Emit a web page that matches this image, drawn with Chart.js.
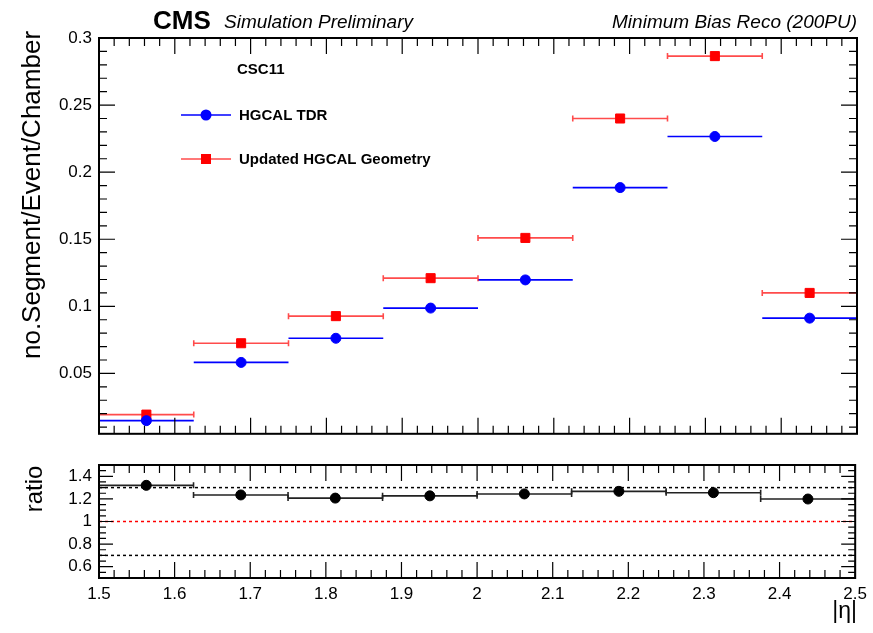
<!DOCTYPE html>
<html>
<head>
<meta charset="utf-8">
<title>CSC11 segments per event per chamber</title>
<script src="https://cdn.jsdelivr.net/npm/chart.js@4.4.1/dist/chart.umd.min.js"></script>
<style>
  body { margin: 0; background: #fff; }
  #wrap { position: relative; width: 873px; height: 633px; }
  .pad { position: absolute; left: 0; width: 873px; }
  #topPad { top: 0; height: 451px; }
  #botPad { top: 445px; height: 188px; }
</style>
</head>
<body>
<div id="wrap">
  <div class="pad" id="topPad"><canvas id="mainChart"></canvas></div>
  <div class="pad" id="botPad"><canvas id="ratioChart"></canvas></div>
</div>
<script>
// |eta| bin edges and the values
var etaEdges = [1.5, 1.625, 1.75, 1.875, 2.0, 2.125, 2.25, 2.375, 2.5];
var tdrValues = [0.0148, 0.0582, 0.0762, 0.0987, 0.1197, 0.1885, 0.2266, 0.0912];
var updatedValues = [0.0193, 0.0725, 0.0927, 0.1210, 0.1510, 0.2400, 0.2865, 0.1100];
var ratioValues = [1.32, 1.235, 1.207, 1.227, 1.244, 1.267, 1.255, 1.199];

var mainYTicks = [0.05, 0.1, 0.15, 0.2, 0.25, 0.3];
var ratioYTicks = [0.6, 0.8, 1, 1.2, 1.4];
var etaTicks = [1.5, 1.6, 1.7, 1.8, 1.9, 2.0, 2.1, 2.2, 2.3, 2.4, 2.5];
var ratioRefLines = [0.7, 1.0, 1.3];

var FONT = "'Liberation Sans', Arial, Helvetica, sans-serif";

var binPoints = function(values){
	var pts = [];
	for (var i = 0; i < values.length; i++) {
		pts.push({ x: (etaEdges[i] + etaEdges[i+1]) / 2, y: values[i], xLo: etaEdges[i], xHi: etaEdges[i+1] });
	}
	return pts;
};

var fixedTicks = function(list){
	return function(scale){ scale.ticks = list.map(function(v){ return { value: v }; }); };
};

// ROOT style pad: inward ticks on four sides, frame, x error bars, reference lines
var rootPad = {
	id: 'rootPad',
	beforeDatasetsDraw: function(chart, args, o){
		var ctx = chart.ctx, xs = chart.scales.x, ys = chart.scales.y, a = chart.chartArea;
		ctx.save();
		ctx.beginPath();
		ctx.rect(a.left, a.top, a.right - a.left, a.bottom - a.top);
		ctx.clip();
		(o.refLines || []).forEach(function(r){
			var py = ys.getPixelForValue(r.value);
			ctx.strokeStyle = r.color;
			ctx.lineWidth = 1.5;
			ctx.setLineDash([3, 3]);
			ctx.beginPath();
			ctx.moveTo(a.left, py); ctx.lineTo(a.right, py);
			ctx.stroke();
		});
		ctx.setLineDash([]);
		chart.data.datasets.forEach(function(ds){
			ctx.strokeStyle = ds.errColor;
			ctx.lineWidth = 1.6;
			ds.data.forEach(function(p){
				var py = ys.getPixelForValue(p.y);
				var x1 = xs.getPixelForValue(p.xLo), x2 = xs.getPixelForValue(p.xHi);
				ctx.beginPath();
				ctx.moveTo(x1, py); ctx.lineTo(x2, py);
				if (ds.errCap) {
					ctx.moveTo(x1, py - ds.errCap); ctx.lineTo(x1, py + ds.errCap);
					ctx.moveTo(x2, py - ds.errCap); ctx.lineTo(x2, py + ds.errCap);
				}
				ctx.stroke();
			});
		});
		ctx.restore();
	},
	afterDraw: function(chart, args, o){
		var ctx = chart.ctx, xs = chart.scales.x, ys = chart.scales.y, a = chart.chartArea;
		ctx.save();
		ctx.strokeStyle = '#000';
		ctx.lineWidth = 1.2;
		ctx.beginPath();
		var i, v, p, len, major;
		var n0 = Math.ceil(xs.min / o.xMinor - 1e-6), n1 = Math.floor(xs.max / o.xMinor + 1e-6);
		for (i = n0; i <= n1; i++) {
			v = i * o.xMinor;
			p = xs.getPixelForValue(v);
			major = Math.abs(v / o.xMajor - Math.round(v / o.xMajor)) < 1e-6;
			len = major ? o.xMajorLen : o.xMinorLen;
			ctx.moveTo(p, a.bottom); ctx.lineTo(p, a.bottom - len);
			ctx.moveTo(p, a.top); ctx.lineTo(p, a.top + len);
		}
		n0 = Math.ceil(ys.min / o.yMinor - 1e-6); n1 = Math.floor(ys.max / o.yMinor + 1e-6);
		for (i = n0; i <= n1; i++) {
			v = i * o.yMinor;
			p = ys.getPixelForValue(v);
			major = Math.abs(v / o.yMajor - Math.round(v / o.yMajor)) < 1e-6;
			len = major ? o.yMajorLen : o.yMinorLen;
			ctx.moveTo(a.left, p); ctx.lineTo(a.left + len, p);
			ctx.moveTo(a.right, p); ctx.lineTo(a.right - len, p);
		}
		ctx.stroke();
		ctx.lineWidth = 2;
		ctx.strokeRect(a.left, a.top, a.right - a.left, a.bottom - a.top);
		ctx.restore();
	}
};

var drawRotated = function(ctx, text, x, y, font){
	ctx.save();
	ctx.translate(x, y);
	ctx.rotate(-Math.PI / 2);
	ctx.font = font;
	ctx.textAlign = 'center';
	ctx.textBaseline = 'middle';
	ctx.fillText(text, 0, 0);
	ctx.restore();
};

var mainLabels = {
	id: 'mainLabels',
	afterDraw: function(chart){
		var ctx = chart.ctx;
		ctx.save();
		ctx.fillStyle = '#000';
		ctx.textBaseline = 'alphabetic';
		ctx.font = 'bold 26px ' + FONT;
		ctx.fillText('CMS', 153, 29);
		ctx.font = 'italic 19px ' + FONT;
		ctx.fillText('Simulation Preliminary', 224, 28);
		ctx.textAlign = 'right';
		ctx.fillText('Minimum Bias Reco (200PU)', 857, 28);
		ctx.textAlign = 'left';
		drawRotated(ctx, 'no.Segment/Event/Chamber', 33, 195, '26px ' + FONT);

		ctx.font = 'bold 15px ' + FONT;
		ctx.textBaseline = 'middle';
		ctx.fillText('CSC11', 237, 70);
		// legend entries
		var rows = [115, 159];
		chart.data.datasets.forEach(function(ds, k){
			var y = rows[k];
			ctx.strokeStyle = ds.errColor;
			ctx.lineWidth = 1.6;
			ctx.beginPath();
			ctx.moveTo(181, y); ctx.lineTo(231, y);
			ctx.stroke();
			ctx.fillStyle = ds.backgroundColor;
			ctx.beginPath();
			if (ds.pointStyle === 'rect') {
				var s = ds.pointRadius * Math.SQRT1_2 + 0.5;
				ctx.rect(206 - s, y - s, 2 * s, 2 * s);
			} else {
				ctx.arc(206, y, ds.pointRadius + 0.5, 0, Math.PI * 2);
			}
			ctx.fill();
			ctx.fillStyle = '#000';
			ctx.fillText(ds.label, 239, y + 1);
		});
		ctx.restore();
	}
};

var ratioLabels = {
	id: 'ratioLabels',
	afterDraw: function(chart){
		var ctx = chart.ctx;
		ctx.save();
		ctx.fillStyle = '#000';
		drawRotated(ctx, 'ratio', 35, 44, '24px ' + FONT);
		ctx.font = '23px ' + FONT;
		ctx.textAlign = 'right';
		ctx.textBaseline = 'middle';
		ctx.fillText('|\u03b7|', 857, 167);
		ctx.restore();
	}
};

var tickFont = { family: FONT, size: 17 };

new Chart(document.getElementById('mainChart'), {
	type: 'scatter',
	data: {
		datasets: [
			{
				label: 'HGCAL TDR',
				data: binPoints(tdrValues),
				pointStyle: 'circle',
				pointRadius: 5,
				backgroundColor: '#0000ff',
				borderColor: '#0000ff',
				borderWidth: 1,
				errColor: '#0000ff',
				errCap: 0
			},
			{
				label: 'Updated HGCAL Geometry',
				data: binPoints(updatedValues),
				pointStyle: 'rect',
				pointRadius: 6.4,
				backgroundColor: '#ff0000',
				borderColor: '#ff0000',
				borderWidth: 1,
				errColor: 'rgba(255,30,30,0.8)',
				errCap: 3
			}
		]
	},
	options: {
		responsive: true,
		maintainAspectRatio: false,
		animation: false,
		layout: { padding: { top: 38, right: 16, bottom: 13, left: 0 } },
		plugins: {
			legend: { display: false },
			tooltip: { enabled: false },
			rootPad: { xMinor: 0.02, xMajor: 0.1, xMajorLen: 16, xMinorLen: 8, yMinor: 0.01, yMajor: 0.05, yMajorLen: 16, yMinorLen: 8 }
		},
		scales: {
			x: { type: 'linear', min: 1.5, max: 2.5, display: false },
			y: {
				min: 0.005,
				max: 0.3,
				afterBuildTicks: fixedTicks(mainYTicks),
				afterFit: function(s){ s.width = 99; },
				grid: { display: false, drawTicks: false },
				border: { display: false },
				ticks: { font: tickFont, color: '#000', padding: 7, callback: function(v){ return String(+v.toFixed(3)); } }
			}
		}
	},
	plugins: [rootPad, mainLabels]
});

new Chart(document.getElementById('ratioChart'), {
	type: 'scatter',
	data: {
		datasets: [
			{
				label: 'ratio',
				data: binPoints(ratioValues),
				pointStyle: 'circle',
				pointRadius: 5,
				backgroundColor: '#000',
				borderColor: '#000',
				borderWidth: 1,
				errColor: '#222',
				errCap: 3
			}
		]
	},
	options: {
		responsive: true,
		maintainAspectRatio: false,
		animation: false,
		layout: { padding: { top: 20, right: 16, bottom: 0, left: 0 } },
		plugins: {
			legend: { display: false },
			tooltip: { enabled: false },
			rootPad: {
				xMinor: 0.02, xMajor: 0.1, xMajorLen: 16, xMinorLen: 8,
				yMinor: 0.05, yMajor: 0.2, yMajorLen: 14, yMinorLen: 7,
				refLines: ratioRefLines.map(function(v){ return { value: v, color: v === 1 ? '#ff0000' : '#000' }; })
			}
		},
		scales: {
			x: {
				type: 'linear',
				min: 1.5,
				max: 2.5,
				afterBuildTicks: fixedTicks(etaTicks),
				afterFit: function(s){ s.height = 55; },
				grid: { display: false, drawTicks: false },
				border: { display: false },
				ticks: { font: tickFont, color: '#000', padding: 6, autoSkip: false, maxRotation: 0, callback: function(v){ return String(+v.toFixed(2)); } }
			},
			y: {
				min: 0.5,
				max: 1.5,
				afterBuildTicks: fixedTicks(ratioYTicks),
				afterFit: function(s){ s.width = 99; },
				grid: { display: false, drawTicks: false },
				border: { display: false },
				ticks: { font: tickFont, color: '#000', padding: 7, callback: function(v){ return String(+v.toFixed(2)); } }
			}
		}
	},
	plugins: [rootPad, ratioLabels]
});
</script>
</body>
</html>
